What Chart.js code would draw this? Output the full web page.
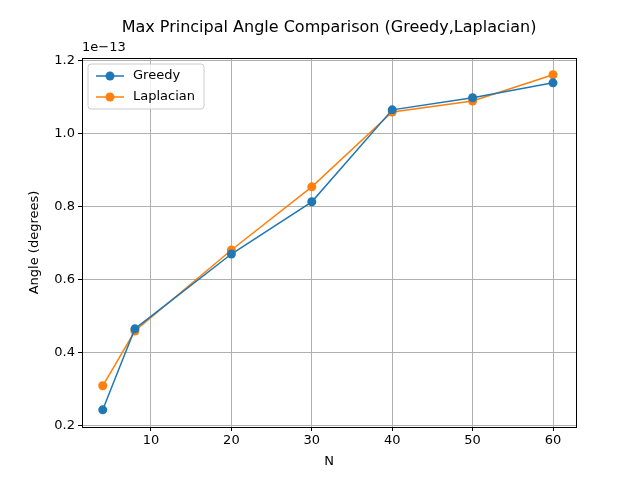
<!DOCTYPE html>
<html><head><meta charset="utf-8">
<script src="https://cdn.jsdelivr.net/npm/chart.js@4"></script>
<style>html,body{margin:0;padding:0;background:#fff}</style>
</head><body>
<canvas id="c" width="640" height="480" style="width:640px;height:480px"></canvas>
<script>
const nValues = [4, 8, 20, 30, 40, 50, 60];
const greedy = [0.244, 0.466, 0.671, 0.814, 1.066, 1.099, 1.140];
const laplacian = [0.310, 0.460, 0.682, 0.855, 1.060, 1.090, 1.162];
const xTicks = [10, 20, 30, 40, 50, 60];
const yTicks = [0.2, 0.4, 0.6, 0.8, 1.0, 1.2];
const FONT = "'DejaVu Sans', sans-serif";

const extras = {
  id: "extras",
  afterDraw(chart) {
    const ctx = chart.ctx, a = chart.chartArea;
    ctx.save();
    ctx.strokeStyle = "#000"; ctx.lineWidth = 1;
    ctx.strokeRect(a.left + 0.5, a.top + 0.5, a.right - a.left, a.bottom - a.top);
    ctx.fillStyle = "#000";
    ctx.font = "16px " + FONT; ctx.textAlign = "center"; ctx.textBaseline = "middle";
    ctx.fillText("Max Principal Angle Comparison (Greedy,Laplacian)", (a.left + a.right) / 2, 28);
    ctx.font = "13px " + FONT;
    ctx.fillText("N", (a.left + a.right) / 2, 462);
    ctx.save(); ctx.translate(35, (a.top + a.bottom) / 2); ctx.rotate(-Math.PI / 2);
    ctx.fillText("Angle (degrees)", 0, 0); ctx.restore();
    ctx.textAlign = "left";
    ctx.fillText("1e\u221213", a.left, 48);
    // legend
    const lx = a.left + 6, ly = a.top + 6;
    ctx.fillStyle = "rgba(255,255,255,0.8)"; ctx.strokeStyle = "#ccc";
    ctx.beginPath(); ctx.roundRect(lx, ly, 116, 45, 3); ctx.fill(); ctx.stroke();
    const items = [["Greedy", "#1f77b4"], ["Laplacian", "#ff7f0e"]];
    items.forEach((it, i) => {
      const y = ly + 12 + i * 21;
      ctx.strokeStyle = it[1]; ctx.fillStyle = it[1]; ctx.lineWidth = 1.5;
      ctx.beginPath(); ctx.moveTo(lx + 8, y); ctx.lineTo(lx + 36, y); ctx.stroke();
      ctx.beginPath(); ctx.arc(lx + 22, y, 4.5, 0, Math.PI * 2); ctx.fill();
      ctx.fillStyle = "#000"; ctx.fillText(it[0], lx + 45, y);
    });
    ctx.restore();
  }
};

new Chart(document.getElementById("c"), {
  type: "line",
  data: {
    datasets: [
      { label: "Greedy", data: nValues.map((n, i) => ({ x: n, y: greedy[i] })),
        borderColor: "#1f77b4", backgroundColor: "#1f77b4", borderWidth: 1.5, pointRadius: 4.5, pointBorderWidth: 0 },
      { label: "Laplacian", data: nValues.map((n, i) => ({ x: n, y: laplacian[i] })),
        borderColor: "#ff7f0e", backgroundColor: "#ff7f0e", borderWidth: 1.5, pointRadius: 4.5, pointBorderWidth: 0 }
    ]
  },
  options: {
    responsive: false, animation: false,
    layout: { padding: { top: 58, right: 64, left: 0, bottom: 0 } },
    plugins: { legend: { display: false }, tooltip: { enabled: false } },
    scales: {
      x: {
        type: "linear", min: 1.42, max: 62.86,
        afterBuildTicks: s => { s.ticks = xTicks.map(v => ({ value: v })); },
        afterFit: s => { s.height = 53; },
        grid: { color: "#b0b0b0", tickColor: "#000", tickLength: 4 },
        border: { display: false },
        ticks: { color: "#000", font: { family: FONT, size: 13 }, maxRotation: 0, padding: 2 }
      },
      y: {
        min: 0.197, max: 1.208,
        afterBuildTicks: s => { s.ticks = yTicks.map(v => ({ value: v })); },
        afterFit: s => { s.width = 82; },
        grid: { color: "#b0b0b0", tickColor: "#000", tickLength: 4 },
        border: { display: false },
        ticks: { color: "#000", font: { family: FONT, size: 13 }, padding: 3, callback: v => v.toFixed(1) }
      }
    }
  },
  plugins: [extras]
});
</script>
</body></html>
